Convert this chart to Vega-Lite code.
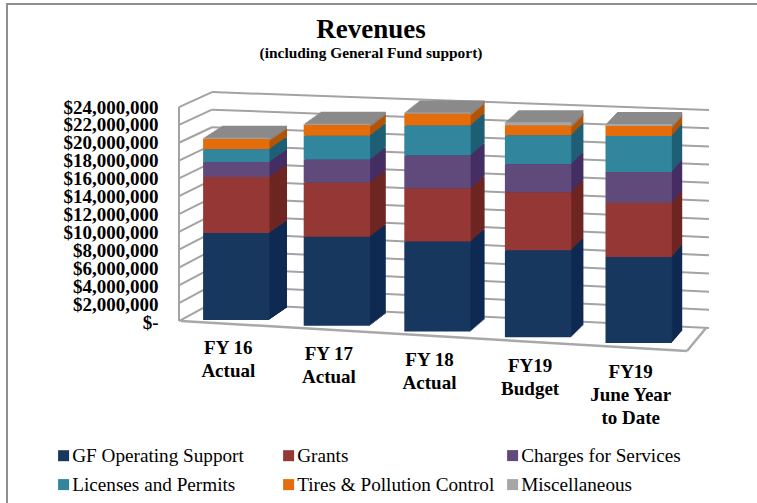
{"$schema":"https://vega.github.io/schema/vega-lite/v6.json","width":756,"height":505,"autosize":{"type":"none"},"padding":{"left":7,"top":4,"right":-6,"bottom":-6},"background":"white","config":{"view":{"stroke":"#8f8f8f","strokeWidth":2},"font":"Liberation Serif"},"title":{"text":"Revenues","subtitle":"(including General Fund support)","anchor":"middle","dx":-14,"offset":-58,"font":"Liberation Serif","fontSize":27,"fontWeight":"bold","color":"black","subtitleFont":"Liberation Serif","subtitleFontSize":15.4,"subtitleFontWeight":"bold","subtitleColor":"black","subtitlePadding":2},"datasets":{"rev":[{"year":"FY 16 Actual","idx":0,"series":"GF Operating Support","ord":0,"amount":9710000},{"year":"FY 16 Actual","idx":0,"series":"Grants","ord":1,"amount":6250000},{"year":"FY 16 Actual","idx":0,"series":"Charges for Services","ord":2,"amount":1670000},{"year":"FY 16 Actual","idx":0,"series":"Licenses and Permits","ord":3,"amount":1420000},{"year":"FY 16 Actual","idx":0,"series":"Tires & Pollution Control","ord":4,"amount":1190000},{"year":"FY 16 Actual","idx":0,"series":"Miscellaneous","ord":5,"amount":110000},{"year":"FY 17 Actual","idx":1,"series":"GF Operating Support","ord":0,"amount":9930000},{"year":"FY 17 Actual","idx":1,"series":"Grants","ord":1,"amount":6030000},{"year":"FY 17 Actual","idx":1,"series":"Charges for Services","ord":2,"amount":2570000},{"year":"FY 17 Actual","idx":1,"series":"Licenses and Permits","ord":3,"amount":2680000},{"year":"FY 17 Actual","idx":1,"series":"Tires & Pollution Control","ord":4,"amount":1230000},{"year":"FY 17 Actual","idx":1,"series":"Miscellaneous","ord":5,"amount":110000},{"year":"FY 18 Actual","idx":2,"series":"GF Operating Support","ord":0,"amount":10040000},{"year":"FY 18 Actual","idx":2,"series":"Grants","ord":1,"amount":5920000},{"year":"FY 18 Actual","idx":2,"series":"Charges for Services","ord":2,"amount":3680000},{"year":"FY 18 Actual","idx":2,"series":"Licenses and Permits","ord":3,"amount":3350000},{"year":"FY 18 Actual","idx":2,"series":"Tires & Pollution Control","ord":4,"amount":1340000},{"year":"FY 18 Actual","idx":2,"series":"Miscellaneous","ord":5,"amount":110000},{"year":"FY19 Budget","idx":3,"series":"GF Operating Support","ord":0,"amount":9710000},{"year":"FY19 Budget","idx":3,"series":"Grants","ord":1,"amount":6470000},{"year":"FY19 Budget","idx":3,"series":"Charges for Services","ord":2,"amount":3130000},{"year":"FY19 Budget","idx":3,"series":"Licenses and Permits","ord":3,"amount":3240000},{"year":"FY19 Budget","idx":3,"series":"Tires & Pollution Control","ord":4,"amount":1120000},{"year":"FY19 Budget","idx":3,"series":"Miscellaneous","ord":5,"amount":330000},{"year":"FY19 June Year to Date","idx":4,"series":"GF Operating Support","ord":0,"amount":9600000},{"year":"FY19 June Year to Date","idx":4,"series":"Grants","ord":1,"amount":6030000},{"year":"FY19 June Year to Date","idx":4,"series":"Charges for Services","ord":2,"amount":3460000},{"year":"FY19 June Year to Date","idx":4,"series":"Licenses and Permits","ord":3,"amount":4020000},{"year":"FY19 June Year to Date","idx":4,"series":"Tires & Pollution Control","ord":4,"amount":1120000},{"year":"FY19 June Year to Date","idx":4,"series":"Miscellaneous","ord":5,"amount":220000}],"labels":[{"year":"FY 16 Actual","idx":0,"label":"FY 16\nActual"},{"year":"FY 17 Actual","idx":1,"label":"FY 17\nActual"},{"year":"FY 18 Actual","idx":2,"label":"FY 18\nActual"},{"year":"FY19 Budget","idx":3,"label":"FY19\nBudget"},{"year":"FY19 June Year to Date","idx":4,"label":"FY19\nJune Year\nto Date"}],"grid":[{"v":0,"end":0},{"v":0,"end":1},{"v":2000000,"end":0},{"v":2000000,"end":1},{"v":4000000,"end":0},{"v":4000000,"end":1},{"v":6000000,"end":0},{"v":6000000,"end":1},{"v":8000000,"end":0},{"v":8000000,"end":1},{"v":10000000,"end":0},{"v":10000000,"end":1},{"v":12000000,"end":0},{"v":12000000,"end":1},{"v":14000000,"end":0},{"v":14000000,"end":1},{"v":16000000,"end":0},{"v":16000000,"end":1},{"v":18000000,"end":0},{"v":18000000,"end":1},{"v":20000000,"end":0},{"v":20000000,"end":1},{"v":22000000,"end":0},{"v":22000000,"end":1},{"v":24000000,"end":0},{"v":24000000,"end":1}]},"resolve":{"scale":{"x":"independent","y":"independent","color":"independent"}},"layer":[{"data":{"name":"grid"},"transform":[{"calculate":"datum.end==0 ? datum.v*0.981+2120000 : datum.v*1.0137-670000","as":"wall"}],"mark":{"type":"line","stroke":"#a3a3a3","strokeWidth":2},"encoding":{"x":{"field":"end","type":"quantitative","axis":null,"scale":{"domain":[0,1],"range":[205,702]}},"y":{"field":"wall","type":"quantitative","scale":{"domain":[0,24000000],"range":[318,103]},"axis":null},"detail":{"field":"v"}}},{"data":{"name":"grid"},"transform":[{"calculate":"datum.end==1 ? datum.v*0.981+2120000 : datum.v*0.995+110000","as":"wall"}],"mark":{"type":"line","stroke":"#a3a3a3","strokeWidth":2},"encoding":{"x":{"field":"end","type":"quantitative","axis":null,"scale":{"domain":[0,1],"range":[172,205]}},"y":{"field":"wall","type":"quantitative","scale":{"domain":[0,24000000],"range":[318,103]},"axis":{"orient":"left","offset":-151,"values":[0,2000000,4000000,6000000,8000000,10000000,12000000,14000000,16000000,18000000,20000000,22000000,24000000],"labelExpr":"datum.value==0?'$-\u00a0\u00a0':'$'+format(datum.value,',')","labelFont":"Liberation Serif","labelFontSize":19,"labelFontWeight":"bold","labelColor":"black","labelOverlap":false,"labelPadding":0,"ticks":false,"domain":false,"grid":false,"title":null}},"detail":{"field":"v"}}},{"data":{"name":"grid"},"transform":[{"filter":"datum.end==0"},{"calculate":"datum.v*0.995+110000","as":"wall"}],"mark":{"type":"line","stroke":"#a3a3a3","strokeWidth":2},"encoding":{"x":{"datum":0,"type":"quantitative","axis":null,"scale":{"domain":[0,1],"range":[172,205]}},"y":{"field":"wall","type":"quantitative","axis":null,"scale":{"domain":[0,24000000],"range":[318,103]}}}},{"data":{"name":"grid"},"transform":[{"filter":"datum.v==0"},{"calculate":"datum.end==0 ? 111600 : -3237000","as":"wall"}],"mark":{"type":"line","stroke":"#a8a8a8","strokeWidth":2.5},"encoding":{"x":{"field":"end","type":"quantitative","axis":null,"scale":{"domain":[0,1],"range":[174,680]}},"y":{"field":"wall","type":"quantitative","axis":null,"scale":{"domain":[0,24000000],"range":[318,103]}}}},{"data":{"name":"grid"},"transform":[{"filter":"datum.v==0"},{"calculate":"datum.end==0 ? -3237000 : -670000","as":"wall"}],"mark":{"type":"line","stroke":"#a8a8a8","strokeWidth":2.5},"encoding":{"x":{"field":"end","type":"quantitative","axis":null,"scale":{"domain":[0,1],"range":[680,699]}},"y":{"field":"wall","type":"quantitative","axis":null,"scale":{"domain":[0,24000000],"range":[318,103]}}}},{"data":{"name":"rev"},"transform":[{"stack":"amount","groupby":["year"],"sort":[{"field":"ord"}],"as":["low","high"]},{"calculate":"datum.high-(5.75*datum.idx-2)*111607","as":"top"},{"calculate":"datum.low-(5.75*datum.idx-2)*111607","as":"bot"},{"calculate":"datum.series=='Miscellaneous' ? datum.bot-280000 : datum.bot","as":"botx"}],"resolve":{"scale":{"x":"independent","y":"independent","color":"independent"}},"layer":[{"mark":"bar","encoding":{"x":{"field":"year","type":"nominal","axis":null,"scale":{"type":"band","range":[198,692],"paddingInner":0.34,"paddingOuter":0.17}},"y":{"field":"top","type":"quantitative","axis":null,"scale":{"domain":[0,24000000],"range":[306,91]}},"y2":{"field":"botx"},"color":{"field":"series","type":"nominal","legend":null,"scale":{"range":["#452e63","#0f2a52","#6e2623","#1f5f76","#8a8a8a","#b35407"]}}}},{"mark":"bar","encoding":{"x":{"field":"year","type":"nominal","axis":null,"scale":{"type":"band","range":[196.4,691.2],"paddingInner":0.34,"paddingOuter":0.17}},"y":{"field":"top","type":"quantitative","axis":null,"scale":{"domain":[0,24000000],"range":[307,92]}},"y2":{"field":"botx"},"color":{"field":"series","type":"nominal","legend":null,"scale":{"range":["#452e63","#0f2a52","#6e2623","#1f5f76","#8a8a8a","#b35407"]}}}},{"mark":"bar","encoding":{"x":{"field":"year","type":"nominal","axis":null,"scale":{"type":"band","range":[194.8,690.3],"paddingInner":0.34,"paddingOuter":0.17}},"y":{"field":"top","type":"quantitative","axis":null,"scale":{"domain":[0,24000000],"range":[308,93]}},"y2":{"field":"botx"},"color":{"field":"series","type":"nominal","legend":null,"scale":{"range":["#452e63","#0f2a52","#6e2623","#1f5f76","#8a8a8a","#b35407"]}}}},{"mark":"bar","encoding":{"x":{"field":"year","type":"nominal","axis":null,"scale":{"type":"band","range":[193.3,689.5],"paddingInner":0.34,"paddingOuter":0.17}},"y":{"field":"top","type":"quantitative","axis":null,"scale":{"domain":[0,24000000],"range":[309,94]}},"y2":{"field":"botx"},"color":{"field":"series","type":"nominal","legend":null,"scale":{"range":["#452e63","#0f2a52","#6e2623","#1f5f76","#8a8a8a","#b35407"]}}}},{"mark":"bar","encoding":{"x":{"field":"year","type":"nominal","axis":null,"scale":{"type":"band","range":[191.7,688.7],"paddingInner":0.34,"paddingOuter":0.17}},"y":{"field":"top","type":"quantitative","axis":null,"scale":{"domain":[0,24000000],"range":[310,95]}},"y2":{"field":"botx"},"color":{"field":"series","type":"nominal","legend":null,"scale":{"range":["#452e63","#0f2a52","#6e2623","#1f5f76","#8a8a8a","#b35407"]}}}},{"mark":"bar","encoding":{"x":{"field":"year","type":"nominal","axis":null,"scale":{"type":"band","range":[190.1,687.8],"paddingInner":0.34,"paddingOuter":0.17}},"y":{"field":"top","type":"quantitative","axis":null,"scale":{"domain":[0,24000000],"range":[311,96]}},"y2":{"field":"botx"},"color":{"field":"series","type":"nominal","legend":null,"scale":{"range":["#452e63","#0f2a52","#6e2623","#1f5f76","#8a8a8a","#b35407"]}}}},{"mark":"bar","encoding":{"x":{"field":"year","type":"nominal","axis":null,"scale":{"type":"band","range":[188.5,687],"paddingInner":0.34,"paddingOuter":0.17}},"y":{"field":"top","type":"quantitative","axis":null,"scale":{"domain":[0,24000000],"range":[312,97]}},"y2":{"field":"botx"},"color":{"field":"series","type":"nominal","legend":null,"scale":{"range":["#452e63","#0f2a52","#6e2623","#1f5f76","#8a8a8a","#b35407"]}}}},{"mark":"bar","encoding":{"x":{"field":"year","type":"nominal","axis":null,"scale":{"type":"band","range":[186.9,686.2],"paddingInner":0.34,"paddingOuter":0.17}},"y":{"field":"top","type":"quantitative","axis":null,"scale":{"domain":[0,24000000],"range":[313,98]}},"y2":{"field":"botx"},"color":{"field":"series","type":"nominal","legend":null,"scale":{"range":["#452e63","#0f2a52","#6e2623","#1f5f76","#8a8a8a","#b35407"]}}}},{"mark":"bar","encoding":{"x":{"field":"year","type":"nominal","axis":null,"scale":{"type":"band","range":[185.3,685.3],"paddingInner":0.34,"paddingOuter":0.17}},"y":{"field":"top","type":"quantitative","axis":null,"scale":{"domain":[0,24000000],"range":[314,99]}},"y2":{"field":"botx"},"color":{"field":"series","type":"nominal","legend":null,"scale":{"range":["#452e63","#0f2a52","#6e2623","#1f5f76","#8a8a8a","#b35407"]}}}},{"mark":"bar","encoding":{"x":{"field":"year","type":"nominal","axis":null,"scale":{"type":"band","range":[183.8,684.5],"paddingInner":0.34,"paddingOuter":0.17}},"y":{"field":"top","type":"quantitative","axis":null,"scale":{"domain":[0,24000000],"range":[315,100]}},"y2":{"field":"botx"},"color":{"field":"series","type":"nominal","legend":null,"scale":{"range":["#452e63","#0f2a52","#6e2623","#1f5f76","#8a8a8a","#b35407"]}}}},{"mark":"bar","encoding":{"x":{"field":"year","type":"nominal","axis":null,"scale":{"type":"band","range":[182.2,683.7],"paddingInner":0.34,"paddingOuter":0.17}},"y":{"field":"top","type":"quantitative","axis":null,"scale":{"domain":[0,24000000],"range":[316,101]}},"y2":{"field":"botx"},"color":{"field":"series","type":"nominal","legend":null,"scale":{"range":["#452e63","#0f2a52","#6e2623","#1f5f76","#8a8a8a","#b35407"]}}}},{"mark":"bar","encoding":{"x":{"field":"year","type":"nominal","axis":null,"scale":{"type":"band","range":[180.6,682.8],"paddingInner":0.34,"paddingOuter":0.17}},"y":{"field":"top","type":"quantitative","axis":null,"scale":{"domain":[0,24000000],"range":[317,102]}},"y2":{"field":"botx"},"color":{"field":"series","type":"nominal","legend":null,"scale":{"range":["#452e63","#0f2a52","#6e2623","#1f5f76","#8a8a8a","#b35407"]}}}},{"transform":[{"filter":"datum.series!='Charges for Services' && datum.series!='Miscellaneous'"}],"mark":"bar","encoding":{"x":{"field":"year","type":"nominal","axis":null,"scale":{"type":"band","range":[179,682],"paddingInner":0.34,"paddingOuter":0.17}},"y":{"field":"top","type":"quantitative","axis":null,"scale":{"domain":[0,24000000],"range":[318,103]}},"y2":{"field":"bot"},"color":{"field":"series","type":"nominal","scale":{"domain":["GF Operating Support","Grants","Licenses and Permits","Tires & Pollution Control"],"range":["#17375e","#953735","#31859c","#e46c0a"]},"legend":{"orient":"none","direction":"horizontal","legendX":47,"legendY":442,"columns":2,"columnPadding":35,"rowPadding":9,"symbolType":"square","symbolSize":121,"labelFont":"Liberation Serif","labelFontSize":19.2,"labelColor":"black","labelOffset":-1,"title":null,"labelLimit":300,"symbolStrokeWidth":0}}}},{"transform":[{"filter":"datum.series=='Charges for Services' || datum.series=='Miscellaneous'"}],"mark":"bar","encoding":{"x":{"field":"year","type":"nominal","axis":null,"scale":{"type":"band","range":[179,682],"paddingInner":0.34,"paddingOuter":0.17}},"y":{"field":"top","type":"quantitative","axis":null,"scale":{"domain":[0,24000000],"range":[318,103]}},"y2":{"field":"bot"},"color":{"field":"series","type":"nominal","scale":{"domain":["Charges for Services","Miscellaneous"],"range":["#604a7b","#a6a6a6"]},"legend":{"orient":"none","direction":"horizontal","legendX":496,"legendY":442,"columns":1,"rowPadding":9,"symbolType":"square","symbolSize":121,"labelFont":"Liberation Serif","labelFontSize":19.2,"labelColor":"black","labelOffset":-1,"title":null,"labelLimit":300,"symbolStrokeWidth":0}}}},{"data":{"name":"labels"},"transform":[],"mark":{"type":"text","font":"Liberation Serif","fontSize":19,"fontWeight":"bold","color":"black","baseline":"top","lineBreak":"\n","lineHeight":23,"dx":-8},"encoding":{"x":{"field":"year","type":"nominal","axis":null,"scale":{"type":"band","range":[179,682],"paddingInner":0.34,"paddingOuter":0.17}},"y":{"datum":0,"type":"quantitative","axis":null,"scale":{"domain":[0,24000000],"range":[318,103]}},"text":{"field":"label"},"yOffset":{"field":"idx","type":"quantitative","scale":{"domain":[0,4],"range":[17,41]}}}}]}]}
